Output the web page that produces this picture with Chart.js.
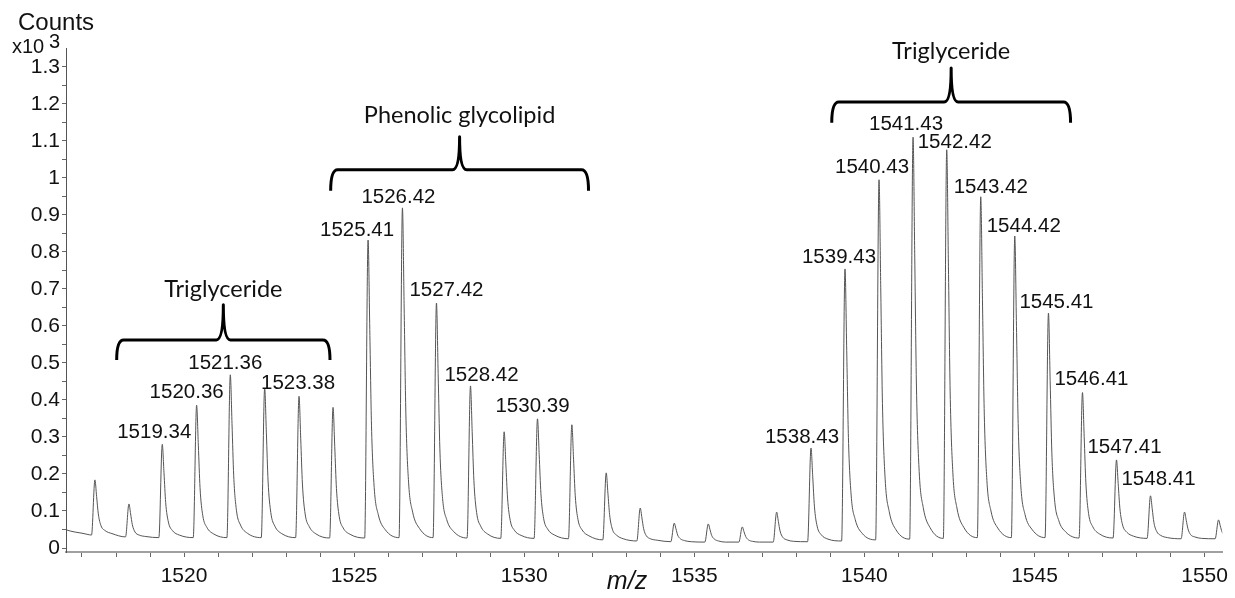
<!DOCTYPE html>
<html>
<head>
<meta charset="utf-8">
<title>Counts vs m/z</title>
<script src="https://cdn.jsdelivr.net/npm/chart.js@4.4.1/dist/chart.umd.min.js"></script>
<style>
    html, body { margin: 0; padding: 0; background: #fff; }
    #wrap { position: relative; width: 1235px; height: 598px; }
</style>
</head>
<body>
<div id="wrap"><canvas id="myChart"></canvas></div>
<script>
// spectrum, counts in x10^3
// one line = one peak (base, apex, tail...)
var mz = [
    1516.50, 1516.65, 1516.80, 1517.00, 1517.15,
    1517.28, 1517.38, 1517.43, 1517.48, 1517.56, 1517.68, 1517.88,
    1518.28, 1518.38, 1518.43, 1518.48, 1518.56, 1518.68, 1518.88,
    1519.26, 1519.36, 1519.41, 1519.46, 1519.54, 1519.66, 1519.86,
    1520.27, 1520.37, 1520.42, 1520.47, 1520.55, 1520.67, 1520.87,
    1521.26, 1521.36, 1521.41, 1521.46, 1521.54, 1521.66, 1521.86,
    1522.27, 1522.37, 1522.42, 1522.47, 1522.55, 1522.67, 1522.87,
    1523.28, 1523.38, 1523.43, 1523.48, 1523.56, 1523.68, 1523.88,
    1524.28, 1524.38, 1524.43, 1524.48, 1524.56, 1524.68, 1524.88,
    1525.31, 1525.41, 1525.46, 1525.51, 1525.59, 1525.71, 1525.91,
    1526.32, 1526.42, 1526.47, 1526.52, 1526.60, 1526.72, 1526.92,
    1527.32, 1527.42, 1527.47, 1527.52, 1527.60, 1527.72, 1527.92,
    1528.32, 1528.42, 1528.47, 1528.52, 1528.60, 1528.72, 1528.92,
    1529.31, 1529.41, 1529.46, 1529.51, 1529.59, 1529.71, 1529.91,
    1530.29, 1530.39, 1530.44, 1530.49, 1530.57, 1530.69, 1530.89,
    1531.30, 1531.40, 1531.45, 1531.50, 1531.58, 1531.70, 1531.90,
    1532.31, 1532.41, 1532.46, 1532.51, 1532.59, 1532.71, 1532.91,
    1533.31, 1533.41, 1533.46, 1533.51, 1533.59, 1533.71, 1533.91,
    1534.31, 1534.41, 1534.46, 1534.51, 1534.59, 1534.71, 1534.91,
    1535.31, 1535.41, 1535.46, 1535.51, 1535.59, 1535.71, 1535.91,
    1536.31, 1536.41, 1536.46, 1536.51, 1536.59, 1536.71, 1536.91,
    1537.32, 1537.42, 1537.47, 1537.52, 1537.60, 1537.72, 1537.92,
    1538.33, 1538.43, 1538.48, 1538.53, 1538.61, 1538.73, 1538.93,
    1539.33, 1539.43, 1539.48, 1539.53, 1539.61, 1539.73, 1539.93,
    1540.33, 1540.43, 1540.48, 1540.53, 1540.61, 1540.73, 1540.93,
    1541.33, 1541.43, 1541.48, 1541.53, 1541.61, 1541.73, 1541.93,
    1542.32, 1542.42, 1542.47, 1542.52, 1542.60, 1542.72, 1542.92,
    1543.32, 1543.42, 1543.47, 1543.52, 1543.60, 1543.72, 1543.92,
    1544.32, 1544.42, 1544.47, 1544.52, 1544.60, 1544.72, 1544.92,
    1545.31, 1545.41, 1545.46, 1545.51, 1545.59, 1545.71, 1545.91,
    1546.31, 1546.41, 1546.46, 1546.51, 1546.59, 1546.71, 1546.91,
    1547.31, 1547.41, 1547.46, 1547.51, 1547.59, 1547.71, 1547.91,
    1548.31, 1548.41, 1548.46, 1548.51, 1548.59, 1548.71, 1548.91,
    1549.31, 1549.41, 1549.46, 1549.51, 1549.59, 1549.71, 1549.91,
    1550.31, 1550.41, 1550.46, 1550.51, 1550.59
];

var counts = [
    0.050, 0.046, 0.043, 0.040, 0.037,
    0.035, 0.184, 0.139, 0.092, 0.060, 0.047, 0.039,
    0.030, 0.119, 0.092, 0.063, 0.043, 0.035, 0.031,
    0.028, 0.280, 0.204, 0.123, 0.070, 0.047, 0.035,
    0.028, 0.386, 0.278, 0.163, 0.088, 0.056, 0.038,
    0.028, 0.468, 0.336, 0.195, 0.102, 0.062, 0.040,
    0.028, 0.432, 0.311, 0.181, 0.096, 0.059, 0.039,
    0.028, 0.410, 0.295, 0.173, 0.092, 0.058, 0.038,
    0.027, 0.380, 0.274, 0.161, 0.086, 0.054, 0.037,
    0.027, 0.832, 0.590, 0.332, 0.163, 0.090, 0.050,
    0.028, 0.919, 0.651, 0.365, 0.178, 0.097, 0.053,
    0.028, 0.662, 0.471, 0.268, 0.134, 0.077, 0.045,
    0.027, 0.438, 0.314, 0.183, 0.096, 0.059, 0.038,
    0.026, 0.314, 0.227, 0.135, 0.074, 0.048, 0.034,
    0.026, 0.349, 0.252, 0.148, 0.080, 0.051, 0.035,
    0.025, 0.333, 0.240, 0.141, 0.077, 0.049, 0.033,
    0.022, 0.203, 0.148, 0.090, 0.051, 0.035, 0.025,
    0.019, 0.108, 0.081, 0.052, 0.033, 0.025, 0.021,
    0.017, 0.067, 0.052, 0.035, 0.025, 0.020, 0.017,
    0.016, 0.065, 0.050, 0.034, 0.024, 0.019, 0.016,
    0.016, 0.057, 0.044, 0.031, 0.022, 0.018, 0.016,
    0.016, 0.097, 0.072, 0.046, 0.029, 0.022, 0.018,
    0.017, 0.270, 0.194, 0.113, 0.059, 0.036, 0.024,
    0.019, 0.754, 0.533, 0.298, 0.143, 0.077, 0.040,
    0.022, 0.995, 0.703, 0.391, 0.186, 0.098, 0.049,
    0.024, 1.110, 0.784, 0.435, 0.207, 0.109, 0.055,
    0.026, 1.076, 0.760, 0.424, 0.203, 0.108, 0.056,
    0.028, 0.949, 0.672, 0.377, 0.183, 0.100, 0.054,
    0.028, 0.843, 0.598, 0.336, 0.165, 0.091, 0.051,
    0.028, 0.635, 0.452, 0.257, 0.130, 0.075, 0.044,
    0.027, 0.420, 0.302, 0.176, 0.093, 0.058, 0.038,
    0.027, 0.238, 0.174, 0.107, 0.062, 0.043, 0.032,
    0.026, 0.141, 0.106, 0.069, 0.045, 0.034, 0.028,
    0.025, 0.097, 0.075, 0.052, 0.036, 0.030, 0.026,
    0.025, 0.076, 0.060, 0.044, 0.034
];

var peakLabels = ['1519.34', '1520.36', '1521.36', '1523.38', '1525.41', '1526.42', '1527.42',
    '1528.42', '1530.39', '1538.43', '1539.43', '1540.43', '1541.43', '1542.42', '1543.42',
    '1544.42', '1545.41', '1546.41', '1547.41', '1548.41'];

// compound groups: m/z span of the brace and its name
var groupNames = ['Triglyceride', 'Phenolic glycolipid', 'Triglyceride'];
var groupFrom = [1518.02, 1524.31, 1539.04];
var groupTo = [1524.29, 1531.89, 1546.06];

var xTicks = [1517, 1518, 1519, 1520, 1521, 1522, 1523, 1524, 1525, 1526, 1527, 1528, 1529,
    1530, 1531, 1532, 1533, 1534, 1535, 1536, 1537, 1538, 1539, 1540, 1541, 1542, 1543, 1544,
    1545, 1546, 1547, 1548, 1549, 1550];
var xTickLabels = [1520, 1525, 1530, 1535, 1540, 1545, 1550];
var yTicks = [0, 0.05, 0.1, 0.15, 0.2, 0.25, 0.3, 0.35, 0.4, 0.45, 0.5, 0.55, 0.6, 0.65, 0.7,
    0.75, 0.8, 0.85, 0.9, 0.95, 1, 1.05, 1.1, 1.15, 1.2, 1.25, 1.3];
var yTickLabels = [0, 0.1, 0.2, 0.3, 0.4, 0.5, 0.6, 0.7, 0.8, 0.9, 1, 1.1, 1.2, 1.3];

// layout only (pixels / value units for where the braces sit)
var labelOffsets = [[-8, -12], [-10, -13], [-5, -11], [-1, -13], [-11, -10], [-4, -11], [10, -13],
    [11, -11], [-5, -12], [-9, -11], [-6, -12], [-7, -12], [-7, -13], [8, -7], [10, -9],
    [9, -10], [8, -11], [9, -13], [8, -13], [8, -16]];
var braceLevels = [
    { end: 0.508, bar: 0.562, tip: 0.657, text: 0.700 },
    { end: 0.965, bar: 1.022, tip: 1.111, text: 1.170 },
    { end: 1.149, bar: 1.205, tip: 1.297, text: 1.341 }
];

var FONT = "'Liberation Sans', Arial, sans-serif";

var points = [];
for (var i = 0; i < mz.length; i++) {
    points.push({ x: mz[i], y: counts[i] });
}

function apexOf(m) {
    // highest point of the spectrum near a labelled m/z
    var best = null;
    for (var i = 0; i < mz.length; i++) {
        if (Math.abs(mz[i] - m) < 0.2 && (best == null || counts[i] > counts[best])) {
            best = i;
        }
    }
    return best;
}

var annotations = {
    id: 'annotations',
    afterDatasetsDraw: function(chart) {
        var ctx = chart.ctx;
        var xs = chart.scales.x;
        var ys = chart.scales.y;
        ctx.save();

        // peak labels
        ctx.fillStyle = '#111';
        ctx.font = '20.5px ' + FONT;
        ctx.textAlign = 'center';
        ctx.textBaseline = 'middle';
        for (var i = 0; i < peakLabels.length; i++) {
            var k = apexOf(parseFloat(peakLabels[i]));
            var px = xs.getPixelForValue(mz[k]);
            var py = ys.getPixelForValue(counts[k]);
            ctx.fillText(peakLabels[i], px + labelOffsets[i][0], py + labelOffsets[i][1]);
        }

        // braces
        ctx.strokeStyle = '#000';
        ctx.lineWidth = 3;
        ctx.lineJoin = 'round';
        ctx.font = "23.5px Lato, 'Open Sans', sans-serif";
        for (var j = 0; j < groupNames.length; j++) {
            var x1 = xs.getPixelForValue(groupFrom[j]);
            var x2 = xs.getPixelForValue(groupTo[j]);
            var xc = (x1 + x2) / 2;
            var yEnd = ys.getPixelForValue(braceLevels[j].end);
            var yBar = ys.getPixelForValue(braceLevels[j].bar);
            var yTip = ys.getPixelForValue(braceLevels[j].tip);
            var r = 7;
            ctx.beginPath();
            ctx.moveTo(x1, yEnd);
            ctx.quadraticCurveTo(x1, yBar, x1 + r, yBar);
            ctx.lineTo(xc - r, yBar);
            ctx.quadraticCurveTo(xc, yBar, xc, yTip);
            ctx.quadraticCurveTo(xc, yBar, xc + r, yBar);
            ctx.lineTo(x2 - r, yBar);
            ctx.quadraticCurveTo(x2, yBar, x2, yEnd);
            ctx.stroke();
            ctx.fillText(groupNames[j], xc, ys.getPixelForValue(braceLevels[j].text));
        }

        ctx.restore();
    },
    afterDraw: function(chart) {
        var ctx = chart.ctx;
        ctx.save();
        ctx.fillStyle = '#111';
        ctx.textAlign = 'left';
        ctx.textBaseline = 'alphabetic';
        ctx.font = '24px ' + FONT;
        ctx.fillText('Counts', 18, 30);
        ctx.font = '20px ' + FONT;
        ctx.fillText('x10', 12, 53);
        ctx.fillText('3', 49, 48);
        ctx.font = 'italic 25px ' + FONT;
        ctx.textAlign = 'center';
        ctx.fillText('m/z', 627, 589);
        ctx.restore();
    }
};

var ctx = document.getElementById('myChart').getContext('2d');
var chart = new Chart(ctx, {
    type: 'line',
    data: {
        datasets: [{
            label: 'Counts',
            data: points,
            borderColor: '#555',
            borderWidth: 1,
            pointRadius: 0,
            fill: false,
            cubicInterpolationMode: 'monotone'
        }]
    },
    options: {
        responsive: true,
        maintainAspectRatio: false,
        animation: false,
        layout: { padding: { top: 48, right: 3, left: 0, bottom: 0 } },
        plugins: {
            legend: { display: false },
            tooltip: { enabled: false }
        },
        scales: {
            x: {
                type: 'linear',
                min: 1516.53,
                max: 1550.52,
                afterBuildTicks: function(scale) {
                    scale.ticks = xTicks.map(function(v) { return { value: v }; });
                },
                afterFit: function(scale) { scale.height = 46; },
                border: { display: true, color: '#a0a0a0', width: 2 },
                grid: { drawOnChartArea: false, drawTicks: true, tickLength: 5, color: '#666' },
                ticks: {
                    autoSkip: false,
                    maxRotation: 0,
                    padding: 7,
                    color: '#111',
                    font: { family: FONT, size: 21 },
                    callback: function(value) {
                        return xTickLabels.indexOf(value) >= 0 ? String(value) : '';
                    }
                }
            },
            y: {
                type: 'linear',
                min: -0.0108,
                max: 1.351,
                afterBuildTicks: function(scale) {
                    scale.ticks = yTicks.map(function(v) { return { value: v }; });
                },
                afterFit: function(scale) { scale.width = 66; },
                border: { display: true, color: '#555', width: 1 },
                grid: { drawOnChartArea: false, drawTicks: true, tickLength: 4, color: '#666' },
                ticks: {
                    autoSkip: false,
                    padding: 2,
                    color: '#111',
                    font: { family: FONT, size: 21 },
                    callback: function(value) {
                        return yTickLabels.indexOf(value) >= 0 ? String(value) : '';
                    }
                }
            }
        }
    },
    plugins: [annotations]
});
</script>
</body>
</html>
